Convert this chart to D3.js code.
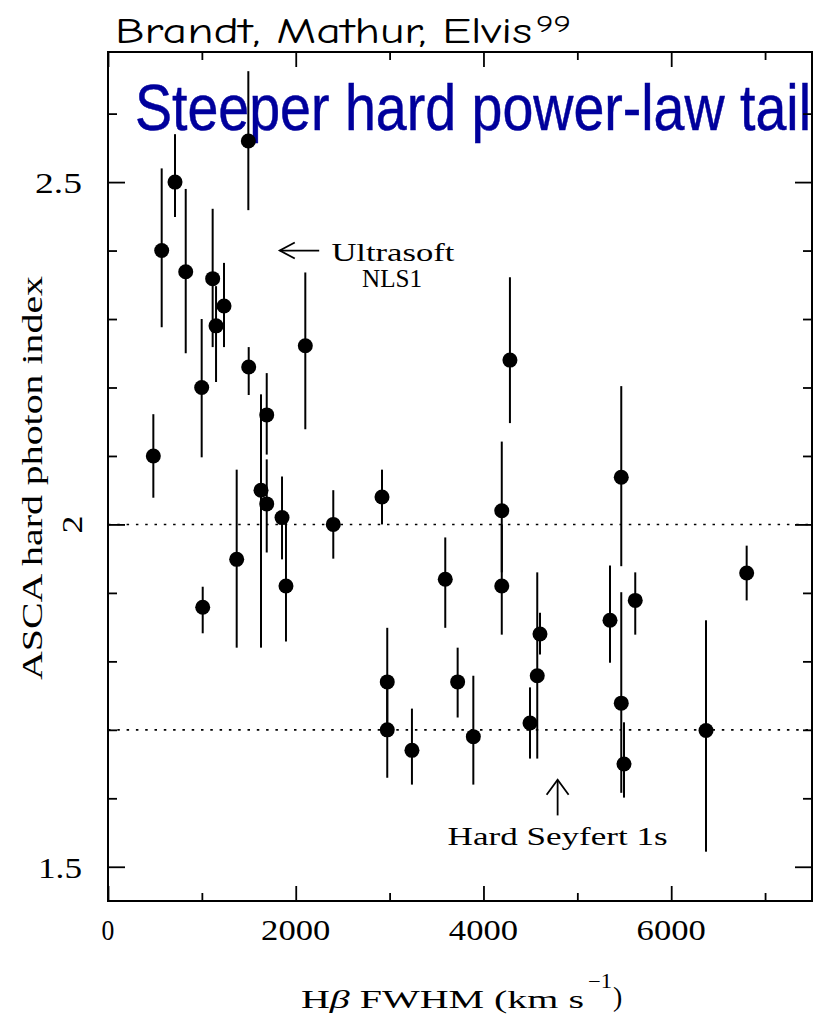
<!DOCTYPE html>
<html>
<head>
<meta charset="utf-8">
<script src="https://cdn.jsdelivr.net/npm/d3@7"></script>
<style>
  body { margin: 0; background: #fff; }
  .pg { font-family: "Liberation Serif", "DejaVu Serif", serif; fill: #000; }
</style>
</head>
<body>
<svg id="chart" width="831" height="1014"></svg>
<script>
// H-beta FWHM (km/s) and ASCA hard photon index with 90% error range
var fwhm    = [483, 572, 714, 828, 1495, 1115, 1151, 1236, 998, 1499, 1691, 2102, 1009, 1371, 1630, 1691, 1854, 1896, 2400, 2919,
               2975, 2975, 3238, 3593, 3725, 3892, 4195, 4195, 4496, 4573, 4602, 4282, 5468, 5468, 5497, 5348, 5617, 6371, 6804];
var gamma   = [2.100, 2.400, 2.500, 2.369, 2.560, 2.359, 2.290, 2.319, 2.200, 2.230, 2.160, 2.261, 1.879, 1.949, 2.050, 2.030, 2.010, 1.910, 2.000, 2.040,
               1.770, 1.700, 1.670, 1.920, 1.770, 1.690, 2.020, 1.910, 1.710, 1.779, 1.840, 2.240, 2.069, 1.739, 1.650, 1.860, 1.889, 1.699, 1.929];
var gammaHi = [2.161, 2.520, 2.570, 2.490, 2.662, 2.461, 2.348, 2.382, 2.300, 2.259, 2.221, 2.368, 1.909, 2.080, 2.190, 2.095, 2.070, 2.007, 2.050, 2.080,
               1.849, 1.780, 1.731, 1.981, 1.820, 1.779, 2.121, 2.000, 1.762, 1.930, 1.871, 2.361, 2.202, 1.901, 1.711, 1.940, 1.930, 1.860, 1.969];
var gammaLo = [2.039, 2.288, 2.449, 2.250, 2.459, 2.259, 2.208, 2.259, 2.098, 2.189, 2.102, 2.139, 1.841, 1.820, 1.820, 1.959, 1.949, 1.829, 1.950, 2.000,
               1.690, 1.630, 1.620, 1.849, 1.718, 1.620, 1.930, 1.839, 1.658, 1.658, 1.810, 2.148, 1.939, 1.608, 1.601, 1.798, 1.839, 1.522, 1.889];

var xMajor = [0, 2000, 4000, 6000];
var xMinor = [1000, 3000, 5000, 7000];
var xTickLabels = ["0", "2000", "4000", "6000"];
var yMajor = [1.5, 2, 2.5];
var yMinor = [1.6, 1.7, 1.8, 1.9, 2.1, 2.2, 2.3, 2.4, 2.6];
var yTickLabels = ["1.5", "2", "2.5"];
var refLines = [2.0, 1.7];

var svg = d3.select("#chart");
var L = 108, R = 812, T = 52, B = 901;
var x = d3.scaleLinear().domain([0, 7500]).range([L, R]);
var y = d3.scaleLinear().domain([1.45, 2.69]).range([B, T]);

// blue overlay headline, clipped at the frame edge
svg.append("clipPath").attr("id", "clipR")
  .append("rect").attr("x", 0).attr("y", 0).attr("width", R).attr("height", 200);
svg.append("text")
  .attr("clip-path", "url(#clipR)")
  .attr("x", 135).attr("y", 130)
  .attr("textLength", 676).attr("lengthAdjust", "spacingAndGlyphs")
  .style("font-family", "'Liberation Sans Narrow', 'Liberation Sans', Arial, sans-serif")
  .style("font-size", "64px")
  .style("fill", "#00009c")
  .style("stroke", "#00009c").style("stroke-width", 0.5)
  .text("Steeper hard power-law tail");

// reference lines
svg.selectAll("line.ref").data(refLines).enter().append("line")
  .attr("class", "ref")
  .attr("x1", L).attr("x2", R)
  .attr("y1", function(d){ return y(d); }).attr("y2", function(d){ return y(d); })
  .attr("stroke", "#000").attr("stroke-width", 1.6)
  .attr("stroke-dasharray", "2.5,6.8");

// ticks on all four sides, pointing inward
function tickAxis(axisFn, scale, vals, size, tx, ty) {
  var g = svg.append("g").attr("transform", "translate(" + tx + "," + ty + ")")
    .call(axisFn(scale).tickValues(vals).tickSizeInner(size).tickSizeOuter(0).tickFormat(""));
  g.select(".domain").remove();
  g.selectAll(".tick line").attr("stroke", "#000").attr("stroke-width", 1.8);
}
tickAxis(d3.axisBottom, x, xMajor, -15, 0, B);
tickAxis(d3.axisBottom, x, xMinor, -8, 0, B);
tickAxis(d3.axisTop, x, xMajor, -15, 0, T);
tickAxis(d3.axisTop, x, xMinor, -8, 0, T);
tickAxis(d3.axisLeft, y, yMajor, -17, L, 0);
tickAxis(d3.axisLeft, y, yMinor, -9, L, 0);
tickAxis(d3.axisRight, y, yMajor, -17, R, 0);
tickAxis(d3.axisRight, y, yMinor, -9, R, 0);

// frame
svg.append("rect").attr("x", L).attr("y", T).attr("width", R - L).attr("height", B - T)
  .attr("fill", "none").attr("stroke", "#000").attr("stroke-width", 2);

// tick labels
svg.selectAll("text.xl").data(xMajor).enter().append("text")
  .attr("class", "xl pg")
  .attr("x", function(d){ return x(d); }).attr("y", 940)
  .attr("text-anchor", "middle")
  .attr("textLength", function(d, i){ return xTickLabels[i].length * 18.8 - 6; })
  .attr("lengthAdjust", "spacingAndGlyphs")
  .style("font-size", "30px")
  .text(function(d, i){ return xTickLabels[i]; });

svg.selectAll("text.yl").data(yMajor).enter().append("text")
  .attr("class", "yl pg")
  .attr("transform", function(d, i){
    return yTickLabels[i].length === 1
      ? "translate(82," + y(d) + ") rotate(-90)"
      : "translate(82," + (y(d) + 11) + ")";
  })
  .attr("text-anchor", function(d, i){ return yTickLabels[i].length === 1 ? "middle" : "end"; })
  .attr("textLength", function(d, i){ return yTickLabels[i].length === 1 ? 18 : (i === 0 ? 44 : 47); })
  .attr("lengthAdjust", "spacingAndGlyphs")
  .style("font-size", "30px")
  .text(function(d, i){ return yTickLabels[i]; });

// axis titles
svg.append("text").attr("class", "pg")
  .attr("transform", "translate(42,478) rotate(-90)")
  .attr("text-anchor", "middle")
  .attr("textLength", 404).attr("lengthAdjust", "spacingAndGlyphs")
  .style("font-size", "30px")
  .text("ASCA hard photon index");

var xt = svg.append("text").attr("class", "pg")
  .attr("x", 301).attr("y", 1008)
  .attr("textLength", 283).attr("lengthAdjust", "spacingAndGlyphs")
  .style("font-size", "26px");
xt.append("tspan").text("H");
xt.append("tspan").style("font-style", "italic").text("β");
xt.append("tspan").text(" FWHM (km s");
svg.append("text").attr("class", "pg")
  .attr("x", 588).attr("y", 988)
  .attr("textLength", 24).attr("lengthAdjust", "spacingAndGlyphs")
  .style("font-size", "20px").text("−1");
svg.append("text").attr("class", "pg")
  .attr("x", 613).attr("y", 1006)
  .style("font-size", "28px").text(")");

// annotations
svg.append("line")
  .attr("x1", x(1830)).attr("x2", x(2250)).attr("y1", y(2.40)).attr("y2", y(2.40))
  .attr("stroke", "#000").attr("stroke-width", 1.8);
svg.append("path")
  .attr("d", "M" + (x(1830) + 15) + "," + (y(2.40) - 8) + " L" + x(1830) + "," + y(2.40) + " L" + (x(1830) + 15) + "," + (y(2.40) + 8))
  .attr("fill", "none").attr("stroke", "#000").attr("stroke-width", 1.8);
svg.append("text").attr("class", "pg")
  .attr("x", x(2380)).attr("y", y(2.40) + 10)
  .attr("textLength", 123).attr("lengthAdjust", "spacingAndGlyphs")
  .style("font-size", "25px").text("Ultrasoft");
svg.append("text").attr("class", "pg")
  .attr("x", 362).attr("y", y(2.40) + 36)
  .attr("textLength", 60).attr("lengthAdjust", "spacingAndGlyphs")
  .style("font-size", "25px").text("NLS1");

svg.append("line")
  .attr("x1", x(4790)).attr("x2", x(4790)).attr("y1", y(1.627)).attr("y2", y(1.575))
  .attr("stroke", "#000").attr("stroke-width", 1.8);
svg.append("path")
  .attr("d", "M" + (x(4790) - 11) + "," + (y(1.627) + 15) + " L" + x(4790) + "," + y(1.627) + " L" + (x(4790) + 11) + "," + (y(1.627) + 15))
  .attr("fill", "none").attr("stroke", "#000").attr("stroke-width", 1.8);
svg.append("text").attr("class", "pg")
  .attr("x", x(4790)).attr("y", 845)
  .attr("text-anchor", "middle")
  .attr("textLength", 220).attr("lengthAdjust", "spacingAndGlyphs")
  .style("font-size", "26px").text("Hard Seyfert 1s");

// data: error bars and points
var idx = d3.range(fwhm.length);
svg.selectAll("line.err").data(idx).enter().append("line")
  .attr("class", "err")
  .attr("x1", function(i){ return x(fwhm[i]); }).attr("x2", function(i){ return x(fwhm[i]); })
  .attr("y1", function(i){ return y(gammaHi[i]); }).attr("y2", function(i){ return y(gammaLo[i]); })
  .attr("stroke", "#000").attr("stroke-width", 2);
svg.selectAll("circle.pt").data(idx).enter().append("circle")
  .attr("class", "pt")
  .attr("cx", function(i){ return x(fwhm[i]); })
  .attr("cy", function(i){ return y(gamma[i]); })
  .attr("r", 7.5).attr("fill", "#000");

// citation header
var hd = svg.append("text")
  .attr("x", 115).attr("y", 43)
  .style("font-family", "'Comic Sans MS', 'Comic Neue', 'DejaVu Sans', sans-serif")
  .style("fill", "#000");
hd.append("tspan").style("font-size", "36px")
  .attr("textLength", 417).attr("lengthAdjust", "spacingAndGlyphs")
  .text("Brandt, Mathur, Elvis");
svg.append("text")
  .attr("x", 536).attr("y", 32)
  .attr("textLength", 35).attr("lengthAdjust", "spacingAndGlyphs")
  .style("font-family", "'Comic Sans MS', 'Comic Neue', 'DejaVu Sans', sans-serif")
  .style("font-size", "25px").text("99");
</script>
</body>
</html>
